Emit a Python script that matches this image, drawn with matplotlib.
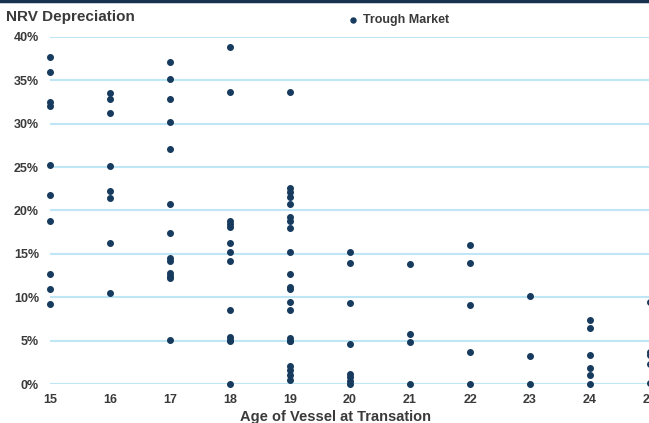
import matplotlib.pyplot as plt
from matplotlib.ticker import PercentFormatter

# NRV depreciation (%) by vessel age at transaction, trough market
ages = [15, 16, 17, 18, 19, 20, 21, 22, 23, 24, 25]
dep_15 = [37.7, 36.0, 32.5, 32.1, 25.2, 21.8, 18.8, 12.7, 10.9, 9.2]
dep_16 = [33.6, 32.9, 31.2, 25.1, 22.2, 21.4, 16.2, 10.5]
dep_17 = [37.1, 35.2, 32.8, 30.2, 27.1, 20.8, 17.4, 14.5, 14.2, 12.8, 12.5, 12.2, 5.1]
dep_18 = [38.9, 33.7, 18.8, 18.5, 18.1, 16.3, 15.2, 14.2, 8.5, 5.4, 5.1, 4.9, 0.0]
dep_19 = [33.7, 22.6, 22.1, 21.6, 20.8, 19.2, 18.8, 18.0, 15.2, 12.7, 11.2, 10.9,
          9.4, 8.5, 5.3, 5.0, 4.9, 2.1, 1.6, 1.0, 0.5]
dep_20 = [15.2, 13.9, 9.3, 4.6, 1.2, 0.8, 0.4, 0.0]
dep_21 = [13.8, 5.8, 4.8, 0.0]
dep_22 = [16.0, 13.9, 9.1, 3.7, 0.0]
dep_23 = [10.1, 3.2, 0.0]
dep_24 = [7.4, 6.5, 3.3, 1.8, 1.0, 0.0]
dep_25 = [9.4, 3.7, 3.3, 2.3, 0.1]
all_deps = [dep_15, dep_16, dep_17, dep_18, dep_19, dep_20, dep_21, dep_22, dep_23, dep_24, dep_25]

navy = "#173b5e"
grid_c = "#bfe6f5"
text_c = "#3a3a3a"
plt.rcParams["font.family"] = ["Liberation Sans", "DejaVu Sans"]

fig = plt.figure(figsize=(6.49, 4.23), dpi=100)
# axes runs past the right edge, like the cropped original
ax = fig.add_axes([50 / 649, 39 / 423, 612 / 649, 347 / 423])

xs, ys = [], []
for age, vals in zip(ages, all_deps):
    xs += [age] * len(vals)
    ys += vals
ax.scatter(xs, ys, s=16, color=navy, zorder=3, clip_on=False, label="Trough Market")

ax.set_xlim(15, 25.2)
ax.set_ylim(0, 40)
ax.set_xticks(ages)
ax.set_yticks(range(0, 41, 5))
ax.yaxis.set_major_formatter(PercentFormatter(decimals=0))
ax.grid(axis="y", color=grid_c, linewidth=1.5, zorder=0)
ax.set_axisbelow(True)
for s in ax.spines.values():
    s.set_visible(False)
ax.tick_params(length=0, labelsize=9, labelcolor=text_c)
ax.tick_params(axis="x", pad=7)
ax.tick_params(axis="y", pad=8)
for lab in ax.get_xticklabels() + ax.get_yticklabels():
    lab.set_fontweight("bold")

fig.text(336 / 649, 1 - 417 / 423, "Age of Vessel at Transation", ha="center", va="center",
         fontsize=10.5, fontweight="bold", color=text_c)
fig.text(6 / 649, 1 - 17 / 423, "NRV Depreciation", ha="left", va="center",
         fontsize=11, fontweight="bold", color=text_c)
fig.legend(loc="center left", bbox_to_anchor=(334 / 649, 1 - 20 / 423), frameon=False,
           handletextpad=-0.2, markerscale=0.9, borderpad=0,
           prop={"weight": "bold", "size": 9}, labelcolor=text_c)
fig.add_artist(plt.Line2D([0, 1], [1 - 1 / 423, 1 - 1 / 423], color="#16324f", linewidth=2.5,
                          transform=fig.transFigure))

fig.savefig("out.png", dpi=100)
